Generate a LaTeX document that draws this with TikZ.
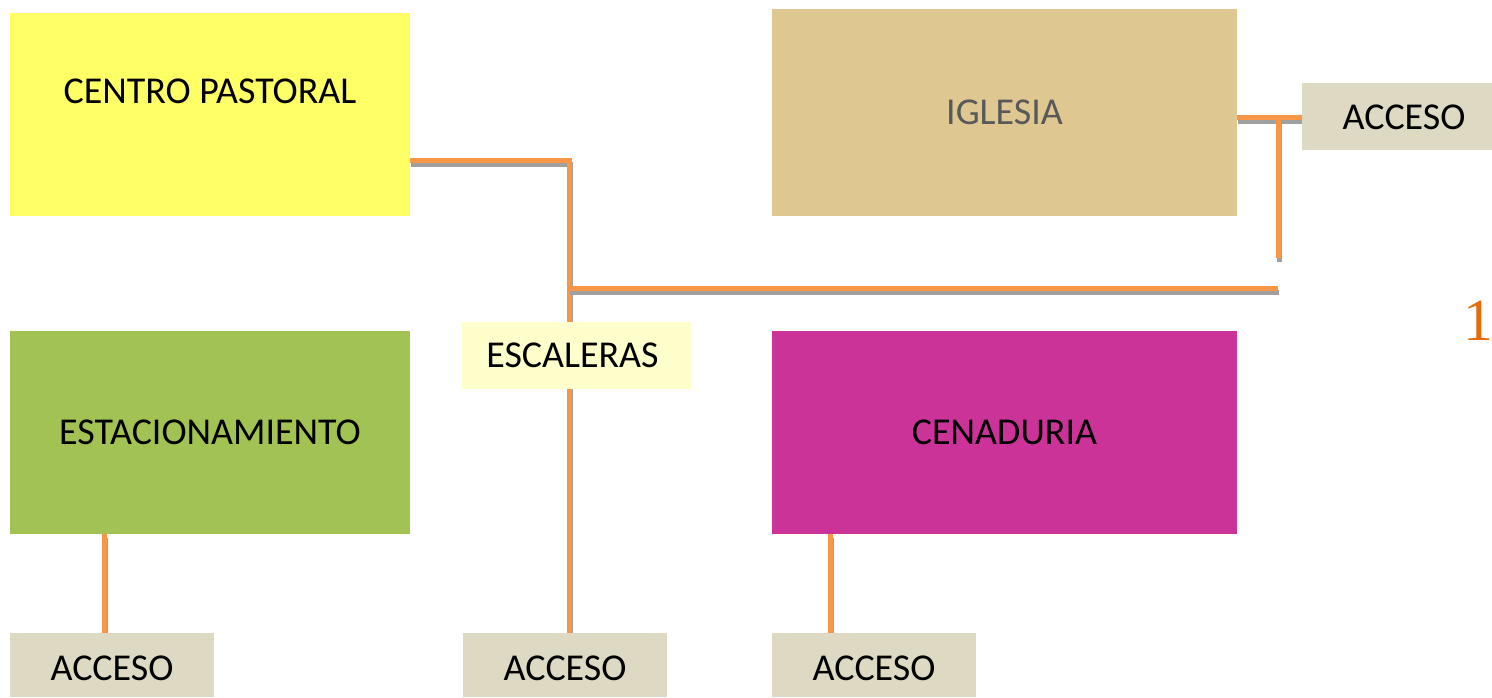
\documentclass[tikz,border=0pt]{standalone}
\usepackage{fontspec}
\setmainfont{Carlito}
\newfontfamily\numfont{Liberation Serif}
\usepackage{xcolor}
\usepackage{tikz}
\usetikzlibrary{positioning,calc,backgrounds}

\definecolor{cpyellow}{HTML}{FFFF66}
\definecolor{igltan}{HTML}{DFC792}
\definecolor{accbeige}{HTML}{DDD9C3}
\definecolor{escpale}{HTML}{FFFFCC}
\definecolor{estgreen}{HTML}{A2C254}
\definecolor{cenmag}{HTML}{CC3399}
\definecolor{lnorange}{HTML}{F79646}
\definecolor{lngray}{HTML}{A0A0A0}
\definecolor{numorange}{HTML}{E36C09}

\begin{document}
\begin{tikzpicture}[
            x=0.02cm, y=-0.02cm,
            every node/.style={font=\fontsize{21.6}{26}\selectfont, inner sep=0pt},
            area/.style={minimum width=8cm, minimum height=4.06cm},
            acc/.style={fill=accbeige, minimum width=4.08cm, minimum height=1.28cm, text height=0.62cm, text depth=0cm},
            conn/.style={draw=lnorange, line width=0.1cm,
                preaction={draw=lngray, line width=0.1cm, transform canvas={shift={(0.02cm,-0.08cm)}}}},
        ]
            \useasboundingbox (0,0) rectangle (1492,697);
            % zonas
            \node[area, fill=cpyellow, text depth=0.95cm] (cp) at (210,114.5) {CENTRO PASTORAL};
            \node[area, fill=estgreen] (est) at (210,432.5) {ESTACIONAMIENTO};
            \node[area, fill=igltan, minimum width=9.3cm, minimum height=4.14cm, text=black!65] (igl) at (1004.5,112.5) {IGLESIA};
            \node[area, fill=cenmag, minimum width=9.3cm] (cen) at (1004.5,432.5) {CENADURIA};
            \node[fill=escpale, minimum width=4.58cm, minimum height=1.34cm] (esc) at (576.5,355.5) {\hspace*{-0.16cm}ESCALERAS};
            % accesos
            \node[acc, minimum width=3.8cm, minimum height=1.34cm, text height=0.5cm] (accigl) at (1397,116.5) {\hspace*{0.28cm}ACCESO};
            \node[acc] (acc1) at (112,665) {ACCESO};
            \node[acc] (acc2) at (565,665) {ACCESO};
            \node[acc] (acc3) at (874,665) {ACCESO};
            \node[text=numorange, font=\numfont\fontsize{34}{40}\selectfont] (num) at (1478,321) {1};
            % puntos de union
            \coordinate (j1) at (569,160);
            \coordinate (j2) at (569,288);
            \coordinate (j3) at (1278,288);
            \coordinate (j4) at (1278,117);
            \coordinate (j5) at (1278,258);
            \begin{scope}[on background layer]
                \draw[conn] (cp.east |- j1) -- (j1) -- (j1 |- acc2.north);
                \draw[conn] (j2) -- (j3);
                \draw[conn] (igl.east |- j4) -- (accigl.west |- j4);
                \draw[conn] (j4) -- (j5);
                \draw[conn] (est.south -| 104,0) -- (acc1.north -| 104,0);
                \draw[conn] (cen.south -| 830,0) -- (acc3.north -| 830,0);
            \end{scope}
        \end{tikzpicture}
\end{document}
